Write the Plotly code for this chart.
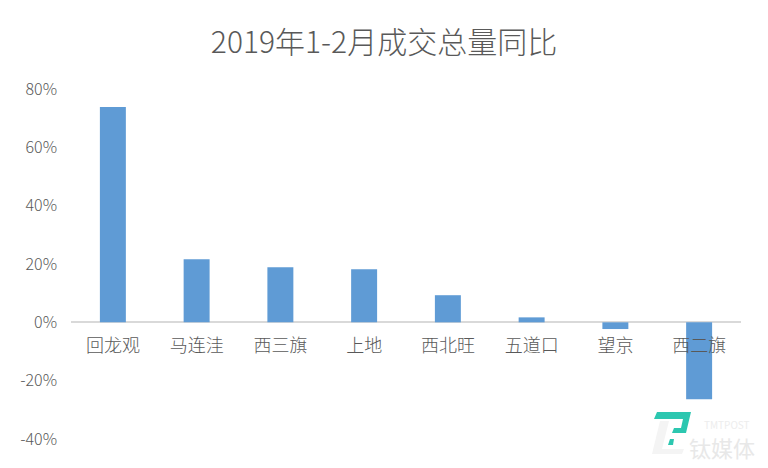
import plotly.graph_objects as go

areas = ["回龙观", "马连洼", "西三旗", "上地", "西北旺", "五道口", "望京", "西二旗"]
yoy = [73.8, 21.6, 18.9, 18.2, 9.3, 1.7, -2.3, -26.4]
y_ticks = [80, 60, 40, 20, 0, -20, -40]
y_labels = ["80%", "60%", "40%", "20%", "0%", "-20%", "-40%"]

FONT = "Noto Sans CJK SC, Liberation Sans, sans-serif"
GREY = "#595959"
# page body has an 8px margin, so the figure starts at (8, 8) in the window
OFF = 8
W, H = 768 - OFF, 468 - OFF


def px(x):
    return (x - OFF) / W


def py(y):
    return 1 - (y - OFF) / H


def poly(points):
    # points are in window pixels
    return "M " + " L ".join(f"{px(x)} {py(y)}" for x, y in points) + " Z"


fig = go.Figure()
fig.add_trace(go.Bar(x=areas, y=yoy, width=0.31, marker=dict(color="#5F9BD5", line=dict(width=0))))

fig.update_layout(
    width=W, height=H,
    margin=dict(l=0, r=0, t=0, b=0, autoexpand=False),
    paper_bgcolor="white", plot_bgcolor="white",
    showlegend=False,
    font=dict(family=FONT, color=GREY, size=17),
    title=dict(text="2019年1-2月成交总量同比", x=px(384), xanchor="center", xref="container",
               y=py(42), yref="container", yanchor="middle",
               font=dict(size=30, color=GREY, weight=300)),
)
# x labels sit under the zero line, not at the bottom of the plot
fig.update_xaxes(domain=[px(71), px(741)], anchor="free", position=py(322.3), automargin=False,
                 showgrid=False, zeroline=False, showline=False, ticks="", ticklabelstandoff=11,
                 tickfont=dict(size=18, color=GREY, weight=300))
fig.update_yaxes(domain=[py(439), py(89)], range=[-40, 80], automargin=False,
                 tickvals=y_ticks, ticktext=y_labels, showgrid=False,
                 zeroline=True, zerolinecolor="#D9D9D9", zerolinewidth=1.5,
                 showline=False, ticks="", ticklabelstandoff=13,
                 tickfont=dict(size=16, color=GREY, weight=300))

# TMTPOST watermark, bottom right
teal = "#2CC7B0"
fig.add_shape(type="path", xref="paper", yref="paper", line=dict(width=0), fillcolor="#F4F4F4",
              path=poly([(660, 421), (669, 421), (662, 449), (684, 449), (682, 454), (652, 454)]))
fig.add_shape(type="path", xref="paper", yref="paper", line=dict(width=0), fillcolor=teal,
              path=poly([(657, 412), (691, 412), (686, 433), (672, 433), (674, 428), (681, 428),
                         (683, 419), (654, 419)]))
fig.add_shape(type="path", xref="paper", yref="paper", line=dict(width=0), fillcolor=teal,
              path=poly([(670, 439), (674, 439), (673, 445), (668, 445)]))
fig.add_shape(type="path", xref="paper", yref="paper", line=dict(width=0), fillcolor="#4A90E2",
              path=poly([(764, 456), (767, 452), (770, 456), (767, 460)]))
fig.add_annotation(text="钛媒体", xref="paper", yref="paper", x=px(722), y=py(447), showarrow=False,
                   xanchor="center", yanchor="middle", font=dict(size=22, color="#E8E8E8"))
fig.add_annotation(text="TMTPOST", xref="paper", yref="paper", x=px(727), y=py(424), showarrow=False,
                   xanchor="center", yanchor="middle", font=dict(size=10, color="#EDEDED"))

fig.write_html("out.html")
